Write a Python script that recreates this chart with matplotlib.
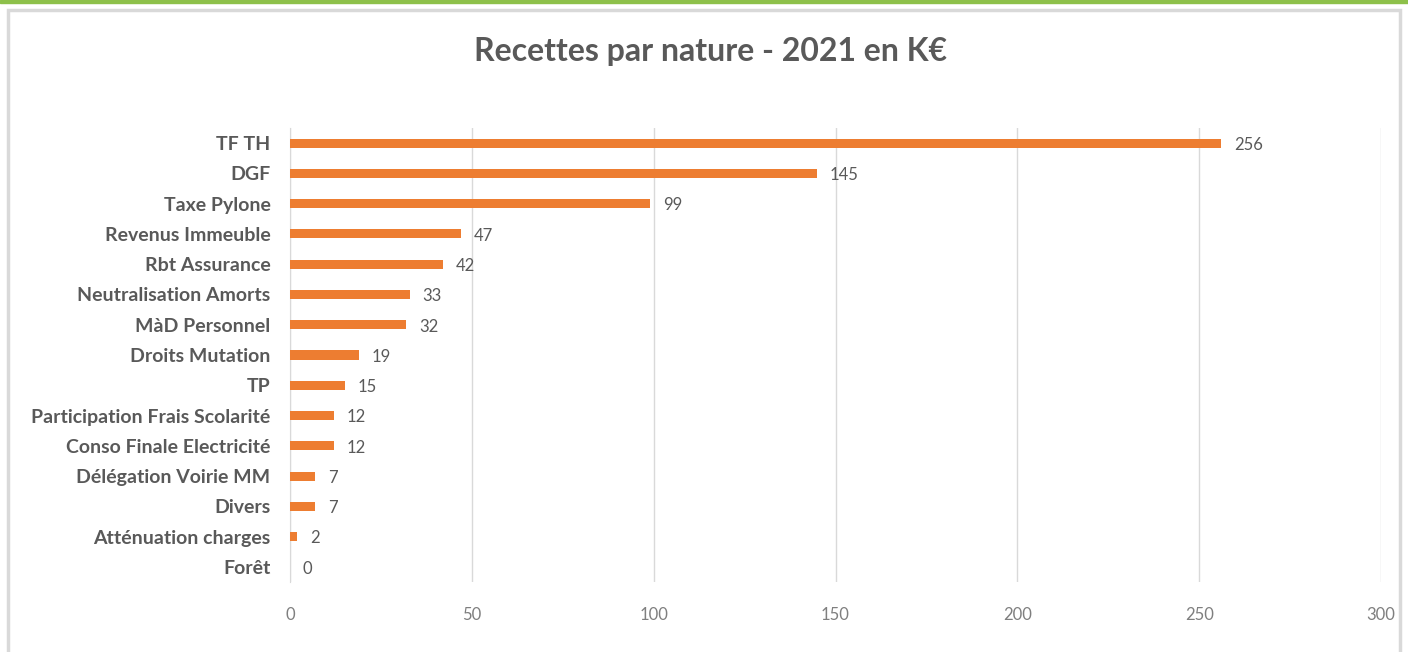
import matplotlib.pyplot as plt
from matplotlib.patches import Rectangle

plt.rcParams['font.family'] = ['Lato', 'DejaVu Sans']

categories = ['TF TH', 'DGF', 'Taxe Pylone', 'Revenus Immeuble', 'Rbt Assurance',
              'Neutralisation Amorts', 'MàD Personnel', 'Droits Mutation', 'TP',
              'Participation Frais Scolarité', 'Conso Finale Electricité',
              'Délégation Voirie MM', 'Divers', 'Atténuation charges', 'Forêt']
values = [256, 145, 99, 47, 42, 33, 32, 19, 15, 12, 12, 7, 7, 2, 0]
xticks = [0, 50, 100, 150, 200, 250, 300]

W, H = 1408, 652
fig = plt.figure(figsize=(W / 100, H / 100), dpi=100)

# green strip at the top and the grey card behind the chart
fig.patches.append(Rectangle((0, 1 - 2.5 / H), 1, 2.5 / H, transform=fig.transFigure,
                             color='#8dc04a', zorder=-2))
fig.patches.append(Rectangle((8 / W, -0.05), 1392 / W, 1 - 10 / H + 0.05,
                             transform=fig.transFigure, facecolor='white',
                             edgecolor='#d9d9d9', linewidth=2.5, zorder=-2))

ax = fig.add_axes([290 / W, 1 - 582 / H, (1381 - 290) / W, (582 - 128) / H])
ax.set_facecolor('none')

ypos = list(range(len(categories)))
ax.barh(ypos, values, height=0.3, color='#ed7d31', zorder=3)
for y, v in zip(ypos, values):
    ax.text(v + 3.5, y + 0.06, str(v), va='center', ha='left', fontsize=12, color='#595959')

ax.set_xlim(0, 300)
ax.set_ylim(len(categories) - 0.5, -0.5)
ax.set_xticks(xticks)
ax.set_yticks(ypos)
ax.set_yticklabels(categories, fontsize=14, fontweight='bold', color='#595959')
ax.tick_params(axis='x', labelsize=12, labelcolor='#7f7f7f', length=0, pad=18)
ax.tick_params(axis='y', length=0, pad=14)
ax.grid(axis='x', color='#d9d9d9', linewidth=1, zorder=0)
for s in ['top', 'right', 'bottom']:
    ax.spines[s].set_visible(False)
ax.spines['left'].set_color('#d9d9d9')

fig.text(710 / W, 1 - 52 / H, 'Recettes par nature - 2021 en K€', ha='center', va='center',
         fontsize=23, fontweight='bold', color='#595959')

fig.savefig('out.png', dpi=100)
